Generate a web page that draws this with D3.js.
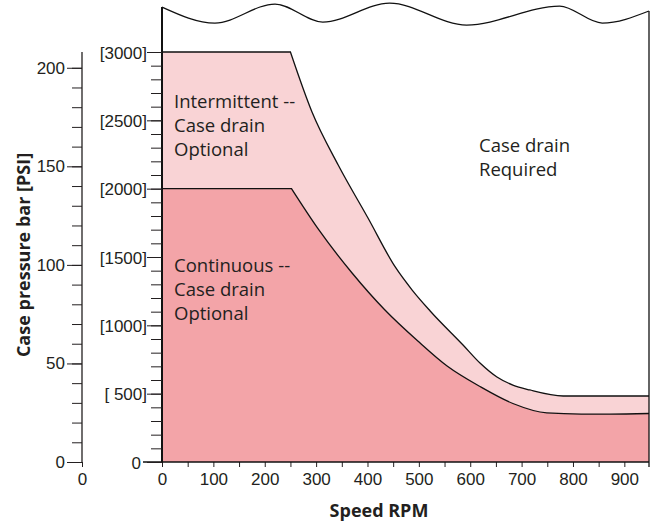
<!DOCTYPE html>
<html>
<head>
<meta charset="utf-8">
<script src="https://cdn.jsdelivr.net/npm/d3@7"></script>
<style>
  body { margin: 0; background: #fff; }
  svg { display: block; font-family: "Open Sans", sans-serif; }
  .tick text { font-size: 17px; fill: #231f20; }
  .tick line, .domain { stroke: #231f20; }
</style>
</head>
<body>
<div id="chart"></div>
<script>
// boundary between intermittent zone and "case drain required"
var upperRpm = [0, 250, 292, 343, 401, 454, 487, 522, 586, 619, 652, 683, 716, 781, 872, 948];
var upperPsi = [3000, 3000, 2561, 2173, 1785, 1427, 1258, 1105, 856, 724, 622, 563, 527, 483, 483, 483];

// boundary of the continuous zone
var lowerRpm = [0, 252, 304, 370, 434, 498, 555, 619, 683, 749, 816, 872, 948];
var lowerPsi = [2000, 2000, 1705, 1383, 1112, 885, 702, 552, 428, 359, 351, 351, 355];

// wavy "axis break" on top of the plot
var waveRpm = [0, 103, 220, 313, 443, 593, 774, 857, 948];
var wavePsi = [3329, 3212, 3351, 3219, 3358, 3197, 3336, 3212, 3300];

var rpmTicks = d3.range(0, 901, 50);
var psiTicks = d3.range(0, 3001, 100);
var barTicks = d3.range(0, 201, 10);

var width = 654, height = 529;

var svg = d3.select("#chart")
    .append("svg")
    .attr("width", width)
    .attr("height", height);

var x = d3.scaleLinear().domain([0, 948]).range([162, 649]);
var yPsi = d3.scaleLinear().domain([0, 3000]).range([462, 52]);
var yBar = d3.scaleLinear().domain([0, 208]).range([462, 52]);

var upper = upperRpm.map(function (d, i) { return [d, upperPsi[i]]; });
var lower = lowerRpm.map(function (d, i) { return [d, lowerPsi[i]]; });
var wave = waveRpm.map(function (d, i) { return [d, wavePsi[i]]; });

var smooth = d3.line()
    .x(function (d) { return x(d[0]); })
    .y(function (d) { return yPsi(d[1]); })
    .curve(d3.curveMonotoneX);

// flat part is straight, then a smooth curve from the knee
function boundary(pts) {
    return "M" + x(pts[0][0]) + "," + yPsi(pts[0][1]) +
        smooth(pts.slice(1)).replace(/^M/, "L");
}

// light zone: between upper and lower curves
svg.append("path")
    .attr("d", boundary(upper) +
        "L" + x(948) + "," + yPsi(0) + "L" + x(0) + "," + yPsi(0) + "Z")
    .attr("fill", "#f9d3d5");

// dark zone: under the lower curve
svg.append("path")
    .attr("d", boundary(lower) +
        "L" + x(948) + "," + yPsi(0) + "L" + x(0) + "," + yPsi(0) + "Z")
    .attr("fill", "#f3a4a8");

svg.append("path")
    .attr("d", boundary(upper))
    .attr("fill", "none")
    .attr("stroke", "#111")
    .attr("stroke-width", 1.3);

svg.append("path")
    .attr("d", boundary(lower))
    .attr("fill", "none")
    .attr("stroke", "#111")
    .attr("stroke-width", 1.3);

// wavy top
svg.append("path")
    .attr("d", smooth(wave))
    .attr("fill", "none")
    .attr("stroke", "#111")
    .attr("stroke-width", 1.3);

// frame sides
svg.append("line")
    .attr("x1", x(0)).attr("x2", x(0))
    .attr("y1", yPsi(wave[0][1])).attr("y2", yPsi(0))
    .attr("stroke", "#111").attr("stroke-width", 2);
svg.append("line")
    .attr("x1", x(948)).attr("x2", x(948))
    .attr("y1", yPsi(wave[wave.length - 1][1])).attr("y2", yPsi(0) + 5)
    .attr("stroke", "#111").attr("stroke-width", 1.3);

// x axis
var xAxis = svg.append("g")
    .attr("transform", "translate(0," + yPsi(0) + ")")
    .call(d3.axisBottom(x)
        .tickValues(rpmTicks)
        .tickSize(5)
        .tickPadding(6)
        .tickFormat(function (d) { return d % 100 === 0 ? d : ""; }));
xAxis.select(".domain").remove();
svg.append("line")
    .attr("x1", x(0) - 19).attr("x2", x(948))
    .attr("y1", yPsi(0)).attr("y2", yPsi(0))
    .attr("stroke", "#111").attr("stroke-width", 1.5);

// psi axis, minor then major
var psiMinor = svg.append("g")
    .attr("transform", "translate(" + x(0) + ",0)")
    .call(d3.axisLeft(yPsi).tickValues(psiTicks).tickSize(11).tickFormat(""));
psiMinor.select(".domain").remove();

var psiMajor = svg.append("g")
    .attr("transform", "translate(" + x(0) + ",0)")
    .call(d3.axisLeft(yPsi)
        .tickValues(psiTicks.filter(function (d) { return d % 500 === 0; }))
        .tickSize(15)
        .tickPadding(0)
        .tickFormat(function (d) {
            if (d === 0) return "0";
            return "[" + (d < 1000 ? " " + d : d) + "]";
        }));
psiMajor.select(".domain").remove();
psiMajor.selectAll(".tick text")
    .attr("dy", "0.36em")
    .attr("dx", function (d) { return d === 0 ? -6 : 0; })
    .style("white-space", "pre");

// bar axis
var barX = 82;
var barMinor = svg.append("g")
    .attr("transform", "translate(" + barX + ",0)")
    .call(d3.axisLeft(yBar).tickValues(barTicks).tickSize(10).tickFormat(""));
barMinor.select(".domain").remove();

svg.append("g")
    .attr("transform", "translate(" + barX + ",0)")
    .call(d3.axisLeft(yBar)
        .tickValues(barTicks.filter(function (d) { return d % 50 === 0; }))
        .tickSize(15)
        .tickPadding(2)
        .tickFormat(d3.format("d")))
    .select(".domain")
    .attr("d", "M0," + yBar(208) + "V" + yBar(0))
    .attr("stroke-width", 1.3);

// stub x axis under the bar axis
var stub = d3.scaleLinear().domain([0, 1]).range([barX, barX + 10]);
svg.append("g")
    .attr("transform", "translate(0," + yBar(0) + ")")
    .call(d3.axisBottom(stub).tickValues([0]).tickSize(5).tickPadding(6)
        .tickFormat(d3.format("d")))
    .select(".domain").remove();

// axis titles
svg.append("text")
    .attr("x", 379)
    .attr("y", 517)
    .attr("text-anchor", "middle")
    .style("font-size", "18px")
    .style("font-weight", "bold")
    .attr("fill", "#231f20")
    .text("Speed RPM");

svg.append("text")
    .attr("transform", "translate(30,255) rotate(-90)")
    .attr("text-anchor", "middle")
    .style("font-size", "18px")
    .style("font-weight", "bold")
    .attr("fill", "#231f20")
    .text("Case pressure bar [PSI]");

// zone notes
function note(lines, px, py) {
    var t = svg.append("text")
        .attr("x", px)
        .attr("y", py)
        .style("font-size", "18.5px")
        .attr("fill", "#231f20");
    lines.forEach(function (s, i) {
        t.append("tspan").attr("x", px).attr("dy", i === 0 ? 0 : 24).text(s);
    });
}
note(["Intermittent --", "Case drain", "Optional"], 174, 108);
note(["Continuous --", "Case drain", "Optional"], 174, 272);
note(["Case drain", "Required"], 479, 152);
</script>
</body>
</html>
